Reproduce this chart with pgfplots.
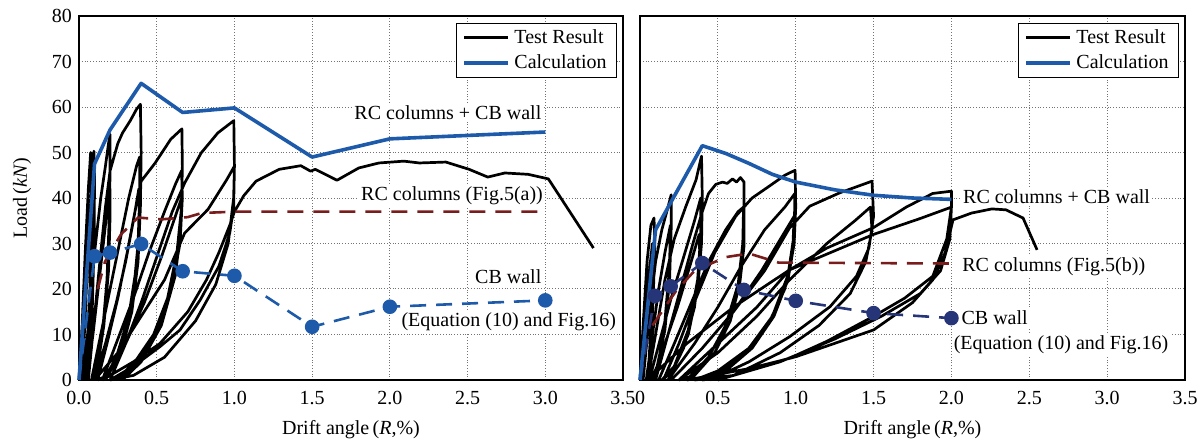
\documentclass[border=0pt]{standalone}
\usepackage{fontspec}
\setmainfont{Liberation Serif}
\usepackage{pgfplots}
\pgfplotsset{compat=1.18}
\definecolor{calcblue}{RGB}{30,90,170}
\definecolor{cbnavy}{RGB}{38,52,120}
\definecolor{rcred}{RGB}{120,28,28}
\pgfplotsset{
 panel/.style={
  scale only axis, height=182pt,
  xmin=0,xmax=3.5,ymin=0,ymax=80,
  xtick={0,0.5,1,1.5,2,2.5,3,3.5}, ytick={0,10,20,30,40,50,60,70,80},
  grid=major, major grid style={densely dotted, black!55, line width=0.5pt},
  axis line style={line width=1.4pt},
  major tick length=0pt,
  clip=false,
  unbounded coords=jump,
  /pgf/number format/assume math mode=true,
  xticklabel style={anchor=base, yshift=-12.5pt},
  every axis x label/.style={at={(axis description cs:0.5,0)}, anchor=base, yshift=-27.5pt},
  legend style={at={(0.989,0.981)}, anchor=north east, draw=black,
     font=\normalsize, inner xsep=3pt, inner ysep=1pt, cells={anchor=west}},
  legend image code/.code={\draw[#1] (0pt,0pt) -- (22pt,0pt);},
 },
 test/.style={black, line width=1.35pt, line join=round},
 calc/.style={calcblue, line width=1.8pt, line join=round},
 rc/.style={rcred, line width=1.3pt, dash pattern=on 8pt off 5pt},
}
\begin{document}
\begin{tikzpicture}
\useasboundingbox (-39.5pt,-32pt) rectangle (562.5pt,190pt);
% ================= LEFT PANEL =================
\begin{axis}[panel, width=272pt, at={(0,0)}, anchor=south west,
  xticklabels={0.0,0.5,1.0,1.5,2.0,2.5,3.0,3.5},
  yticklabels={0,10,20,30,40,50,60,70,80},
  every axis y label/.style={at={(axis description cs:0,0.5)}, xshift=-28.5pt, rotate=90, anchor=center},
  ylabel={Load\,(\textit{kN})},
  xlabel={Drift angle\,(\textit{R},\%)}]
\addlegendimage{black, line width=1.6pt}
\addlegendentry{Test Result}
\addlegendimage{calcblue, line width=2.1pt}
\addlegendentry{Calculation}
\addplot[test, forget plot] coordinates {
(0,0) (0.02,12) (0.04,28) (0.06,42) (0.075,50) (0.08,48) (0.078,35) (0.07,20) (0.05,6) (0.035,0) (0.035,nan)
(0.02,0) (0.04,14) (0.06,30) (0.08,42) (0.096,50.3) (0.1,44) (0.097,30) (0.085,15) (0.065,4) (0.05,0) (0.05,nan)
(0.01,0) (0.03,10) (0.05,22) (0.07,34) (0.085,42) (0.09,38) (0.085,25) (0.07,12) (0.05,3) (0.04,0) (0.04,nan)
(0.03,0) (0.06,12) (0.1,28) (0.14,40) (0.17,47) (0.19,52) (0.2,54) (0.2,46) (0.195,36) (0.18,22) (0.15,10) (0.11,2) (0.08,0) (0.08,nan)
(0.05,0) (0.09,10) (0.13,22) (0.17,34) (0.2,42) (0.2,36) (0.19,24) (0.16,12) (0.12,3) (0.09,0) (0.09,nan)
(0.06,0) (0.1,14) (0.14,28) (0.17,38) (0.2,46) (0.25,52) (0.28,54.3) (0.33,57) (0.37,59.5) (0.395,60.6) (0.4,50) (0.395,38) (0.38,26) (0.34,15) (0.27,6) (0.18,1) (0.12,0) (0.12,nan)
(0.08,0) (0.14,10) (0.2,20) (0.26,30) (0.32,40) (0.37,47) (0.39,49) (0.39,40) (0.38,30) (0.35,19) (0.29,9) (0.2,2) (0.14,0) (0.14,nan)
(0.1,0) (0.17,8) (0.24,17) (0.3,26) (0.35,35) (0.385,42) (0.39,36) (0.37,25) (0.32,14) (0.24,5) (0.16,0) (0.16,nan)
(0.12,0) (0.18,8) (0.25,18) (0.31,28) (0.36,37) (0.4,43.7) (0.49,47.7) (0.59,52.9) (0.662,55.2) (0.665,47) (0.66,38) (0.63,28) (0.57,18) (0.48,10) (0.36,4) (0.24,0) (0.24,nan)
(0.15,0) (0.25,9) (0.35,18) (0.45,28) (0.55,37) (0.62,43) (0.66,46) (0.665,40) (0.65,30) (0.6,21) (0.5,11) (0.38,4) (0.26,0) (0.26,nan)
(0.17,0) (0.3,8) (0.42,17) (0.53,27) (0.62,36) (0.66,40) (0.655,33) (0.62,23) (0.53,12) (0.4,4) (0.28,0) (0.28,nan)
(0.2,0) (0.3,8) (0.4,17) (0.5,27) (0.6,37) (0.68,43.3) (0.786,49.9) (0.893,54.3) (0.996,57) (1.0,47) (0.995,38) (0.97,32.3) (0.9,25) (0.78,17.6) (0.65,11) (0.52,7.3) (0.35,3) (0.2,0) (0.2,nan)
(0.1,0) (0.25,6) (0.4,14) (0.55,22) (0.68,32.3) (0.83,37.5) (0.95,44) (1.0,47) (0.995,40) (0.96,30) (0.88,21) (0.75,13) (0.55,5) (0.35,1) (0.2,0) (0.2,nan)
(0.15,0) (0.35,4) (0.52,8) (0.7,15) (0.82,22) (0.9,28) (0.97,34) (1.0,37) (1.06,40.5) (1.139,43.7) (1.288,46.3) (1.427,47.1) (1.49,45.9) (1.52,46.3) (1.66,43.9) (1.8,46.6) (1.93,47.7) (2.09,48.1) (2.19,47.7) (2.36,47.9) (2.51,46.3) (2.63,44.6) (2.74,45.5) (2.89,45.2) (3.02,44.2) (3.31,29.0)
};
\addplot[rc, forget plot] coordinates {(0.12,20) (0.167,26) (0.27,32) (0.38,35.7) (0.53,35.3) (0.7,35.8) (0.79,36.7) (1.0,37) (3.0,37)};
\addplot[calcblue, line width=1.3pt, dash pattern=on 8pt off 5pt, mark=*, mark size=3pt, mark phase=2, mark options={solid, fill=calcblue}, forget plot]
 coordinates {(0,0) (0.1,27.2) (0.2,28) (0.4,29.9) (0.667,23.9) (1.0,22.9) (1.5,11.7) (2.0,16.1) (3.0,17.5)};
\addplot[calc, forget plot] coordinates {(0,0) (0.1,47.5) (0.2,55) (0.4,65.2) (0.667,58.8) (1.0,59.8) (1.5,49) (2.0,53) (3.0,54.5)};
\node[anchor=east, fill=white, inner sep=1pt] at (axis cs:2.99,58.8) {RC columns + CB wall};
\node[anchor=east, fill=white, inner sep=1pt] at (axis cs:3.0,40.4) {RC columns (Fig.5(a))};
\node[anchor=east, fill=white, inner sep=1pt] at (axis cs:2.99,22.7) {CB wall};
\node[anchor=east, fill=white, inner sep=1pt] at (axis cs:3.47,12.8) {(Equation (10) and Fig.16)};
\end{axis}
% ================= RIGHT PANEL =================
\begin{axis}[panel, width=272.5pt, at={(280.5pt,0)}, anchor=south west,
  xticklabels={0,0.5,1.0,1.5,2.0,2.5,3.0,3.5},
  yticklabels={},
  xlabel={Drift angle\,(\textit{R},\%)}]
\addlegendimage{black, line width=1.6pt}
\addlegendentry{Test Result}
\addlegendimage{calcblue, line width=2.1pt}
\addlegendentry{Calculation}
\addplot[test, forget plot] coordinates {
(0,0) (0.02,12) (0.045,26) (0.07,34) (0.09,35.6) (0.095,30) (0.085,18) (0.065,6) (0.045,0) (0.045,nan)
(0.01,0) (0.035,12) (0.06,24) (0.08,30) (0.085,26) (0.075,14) (0.055,3) (0.04,0) (0.04,nan)
(0.02,0) (0.06,14) (0.1,26) (0.14,33) (0.18,38) (0.2,40.7) (0.2,33) (0.19,22) (0.16,11) (0.11,3) (0.07,0) (0.07,nan)
(0.04,0) (0.08,10) (0.12,20) (0.16,28) (0.195,34) (0.19,25) (0.16,13) (0.12,4) (0.08,0) (0.08,nan)
(0.05,0) (0.1,10) (0.16,22) (0.22,31) (0.295,38.2) (0.36,44) (0.395,49.2) (0.4,40) (0.395,30) (0.37,20) (0.31,10) (0.22,3) (0.14,0) (0.14,nan)
(0.06,0) (0.13,9) (0.2,18) (0.28,27) (0.35,35) (0.39,40) (0.39,32) (0.37,22) (0.31,11) (0.22,3) (0.15,0) (0.15,nan)
(0.08,0) (0.16,8) (0.24,16) (0.32,25) (0.38,32) (0.385,26) (0.35,16) (0.28,7) (0.18,0) (0.18,nan)
(0.1,0) (0.18,10) (0.26,20) (0.34,30) (0.4,37) (0.44,41) (0.487,43) (0.53,43.5) (0.56,43.2) (0.594,44.2) (0.62,43.5) (0.645,44.5) (0.668,43.5) (0.668,29.4) (0.64,21) (0.58,13) (0.48,6) (0.35,1) (0.25,0) (0.25,nan)
(0.12,0) (0.22,8) (0.33,17) (0.44,26) (0.55,33) (0.63,37) (0.665,38) (0.66,30) (0.63,21) (0.55,12) (0.44,5) (0.3,0) (0.3,nan)
(0.15,0) (0.25,8) (0.36,18) (0.48,28) (0.615,36) (0.72,40) (0.83,42.6) (0.93,45) (0.996,46.1) (1.0,38) (0.99,30) (0.95,22) (0.86,14) (0.72,7) (0.55,2) (0.35,0) (0.35,nan)
(0.18,0) (0.35,8) (0.5,16) (0.65,25) (0.8,33) (0.93,38) (0.995,41) (0.99,32) (0.95,23) (0.85,14) (0.7,7) (0.5,2) (0.35,0) (0.35,nan)
(0.2,0) (0.4,7) (0.6,15) (0.78,24) (0.92,32) (0.99,36) (0.98,28) (0.93,20) (0.82,12) (0.65,5) (0.45,0) (0.45,nan)
(0.2,0) (0.4,7) (0.6,15) (0.8,24) (0.96,33.4) (1.09,38.2) (1.28,41.1) (1.49,43.7) (1.5,36) (1.47,29) (1.39,22.8) (1.22,16.1) (0.96,9.5) (0.7,4) (0.45,0) (0.45,nan)
(0.25,0) (0.5,6) (0.75,14) (0.96,22) (1.2,30) (1.38,35) (1.48,38) (1.49,33) (1.45,26) (1.35,19) (1.15,12) (0.9,6) (0.6,1) (0.4,0) (0.4,nan)
(0.05,0) (0.3,8) (0.6,16) (0.96,24.2) (1.5,32) (1.8,35.5) (2.0,38) (1.99,31) (1.93,24) (1.8,19) (1.55,14) (1.25,9) (0.9,4) (0.5,0) (0.5,nan)
(0.25,0) (0.5,8) (0.75,16) (0.96,24.2) (1.2,29) (1.5,33.5) (1.71,38) (1.88,41) (2.0,41.5) (2.0,38) (1.97,31) (1.88,22.8) (1.7,18) (1.5,14) (1.2,8.5) (0.96,4.8) (0.6,1) (0.35,0) (0.35,nan)
(0.3,0) (0.7,2.5) (1.0,5.1) (1.5,11) (1.75,17) (1.88,22) (1.96,28) (2.01,35.2) (2.13,36.7) (2.26,37.6) (2.35,37.4) (2.46,35.6) (2.55,28.6)
};
\addplot[rc, forget plot] coordinates {(0.08,12) (0.23,19.5) (0.35,24) (0.55,27) (0.7,27.8) (0.89,25.8) (2.0,25.6)};
\addplot[cbnavy, line width=1.3pt, dash pattern=on 8pt off 5pt, mark=*, mark size=3pt, mark phase=2, mark options={solid, fill=cbnavy}, forget plot]
 coordinates {(0,0) (0.096,18.5) (0.197,20.6) (0.4,25.7) (0.667,19.8) (1.0,17.4) (1.5,14.7) (2.0,13.6)};
\addplot[calc, forget plot] coordinates {(0,0) (0.1,33) (0.4,51.5) (0.55,49.8) (0.7,47.6) (0.85,45.2) (1.0,43.5) (1.25,41.8) (1.5,40.6) (1.75,40) (2.0,39.7)};
\node[anchor=west, fill=white, inner sep=1pt] at (axis cs:2.06,40.3) {RC columns + CB wall};
\node[anchor=west, fill=white, inner sep=1pt] at (axis cs:2.055,24.9) {RC columns (Fig.5(b))};
\node[anchor=west, fill=white, inner sep=1pt] at (axis cs:2.05,13.7) {CB wall};
\node[anchor=west, fill=white, inner sep=1pt] at (axis cs:2.0,7.7) {(Equation (10) and Fig.16)};
\end{axis}
\end{tikzpicture}
\end{document}
